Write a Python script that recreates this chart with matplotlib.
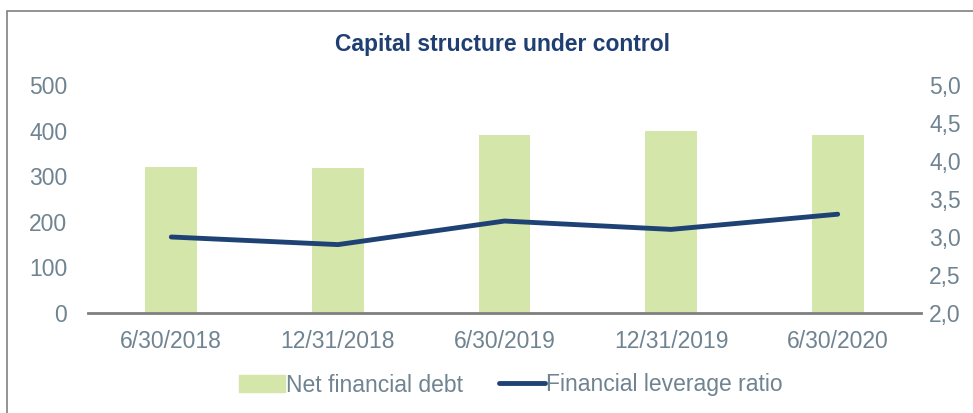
import matplotlib.pyplot as plt
from matplotlib.patches import Rectangle, Patch
from matplotlib.lines import Line2D

# data
categories = ['6/30/2018', '12/31/2018', '6/30/2019', '12/31/2019', '6/30/2020']
net_debt = [320, 318, 390, 399, 390]
leverage = [3.0, 2.9, 3.21, 3.1, 3.3]
left_ticks = [0, 100, 200, 300, 400, 500]
right_ticks = [2.0, 2.5, 3.0, 3.5, 4.0, 4.5, 5.0]

plt.rcParams['font.family'] = ['Liberation Sans', 'DejaVu Sans']
grey = '#6F8390'
green = '#D4E6A9'
navy = '#1F4275'

fig = plt.figure(figsize=(9.73, 4.13), dpi=100)
ax = fig.add_axes([88/973, 1 - 313/413, (921-88)/973, (313-85)/413])
x = range(len(categories))
ax.bar(x, net_debt, width=0.31, color=green, zorder=2)
ax.set_xlim(-0.5, len(categories) - 0.5)
ax.set_ylim(0, 500)
ax.set_yticks(left_ticks)
ax.set_xticks(list(x))
ax.set_xticklabels(categories)

ax2 = ax.twinx()
ax2.plot(x, leverage, color=navy, lw=3.5, solid_capstyle='round', zorder=3)
ax2.set_ylim(2.0, 5.0)
ax2.set_yticks(right_ticks)
ax2.set_yticklabels([f'{v:.1f}'.replace('.', ',') for v in right_ticks])

for a in (ax, ax2):
    for s in a.spines.values():
        s.set_visible(False)
    a.tick_params(length=0, labelsize=16.5, labelcolor=grey)
ax.spines['bottom'].set_visible(True)
ax.spines['bottom'].set_color('#7F7F7F')
ax.spines['bottom'].set_linewidth(2)
ax.tick_params(axis='y', pad=15)
ax.tick_params(axis='x', pad=12)
ax2.tick_params(axis='y', pad=6)

fig.text(0.516, 1 - 44/413, 'Capital structure under control', ha='center', va='center',
         fontsize=16.5, fontweight='bold', color='#1F3F73')

# border
fig.patches.append(Rectangle((7/973, -0.1), 1.2, 1 - 11/413 + 0.1, transform=fig.transFigure,
                             fill=False, edgecolor='#808080', lw=1.2))

handles = [Patch(color=green), Line2D([0], [0], color=navy, lw=3.5, solid_capstyle='round')]
fig.legend(handles, ['Net financial debt', 'Financial leverage ratio'], loc='center',
           bbox_to_anchor=(0.525, 1 - 385/413), ncol=2, frameon=False, fontsize=16.5,
           labelcolor=grey, handlelength=2.0, handletextpad=0.05, columnspacing=1.6)

fig.savefig('out.png', dpi=100)
